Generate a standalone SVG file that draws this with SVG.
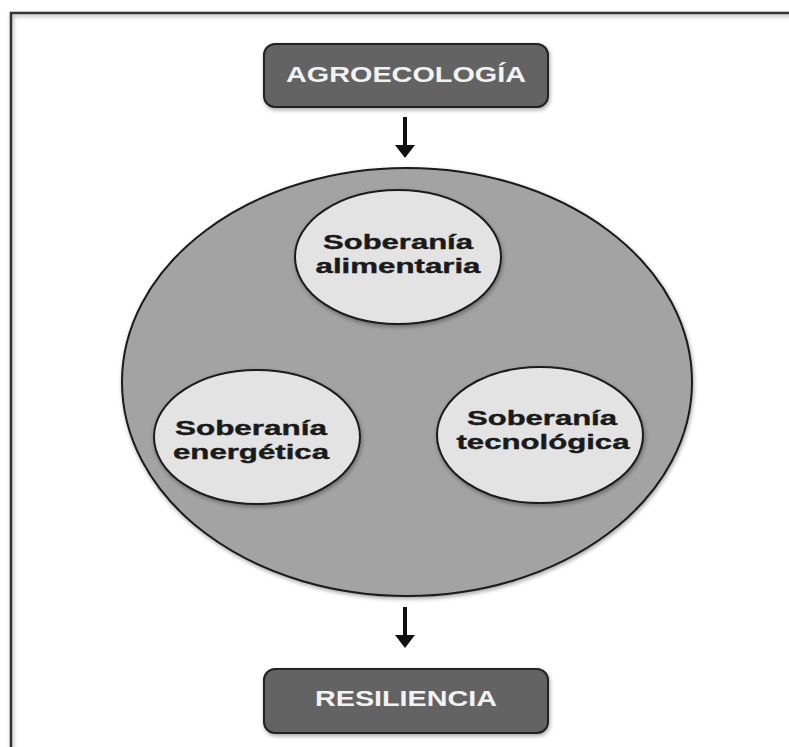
<svg xmlns="http://www.w3.org/2000/svg" width="789" height="747" viewBox="0 0 789 747">
<defs>
<filter id="sh" x="-10%" y="-10%" width="130%" height="130%">
<feGaussianBlur in="SourceAlpha" stdDeviation="2"/>
<feOffset dx="1" dy="2" result="b"/>
<feComponentTransfer><feFuncA type="linear" slope="0.35"/></feComponentTransfer>
<feMerge><feMergeNode/><feMergeNode in="SourceGraphic"/></feMerge>
</filter>
</defs>
<style>
.box{fill:#646464;stroke:#222;stroke-width:2}
.big{fill:#a3a3a3;stroke:#1a1a1a;stroke-width:2}
.small{fill:#e3e3e3;stroke:#1a1a1a;stroke-width:2}
.bt{font-family:"Liberation Sans",Arial,sans-serif;font-weight:bold;font-size:22px;fill:#f2f2f2}
.st{font-family:"Liberation Sans",Arial,sans-serif;font-weight:bold;font-size:21px;fill:#1a1a1a;stroke:#1a1a1a;stroke-width:0.4}
.shaft{stroke:#111;stroke-width:4;fill:none}
.head{fill:#111}
</style>
<rect width="789" height="747" fill="#fff"/>
<path d="M11,760 L11,13 L800,13" fill="none" stroke="#333" stroke-width="2.5" filter="url(#sh)"/>
<g id="agroecologia">
<rect class="box" x="264" y="44" width="284" height="63" rx="11" filter="url(#sh)"/>
<text class="bt" x="406" y="82" text-anchor="middle" textLength="240" lengthAdjust="spacingAndGlyphs">AGROECOLOGÍA</text>
</g>
<g id="soberanias">
<ellipse class="big" cx="407" cy="382" rx="285" ry="214" filter="url(#sh)"/>
</g>
<g id="alimentaria">
<ellipse class="small" cx="398" cy="257" rx="103" ry="67" filter="url(#sh)"/>
<text class="st" x="398" y="249" text-anchor="middle" textLength="150" lengthAdjust="spacingAndGlyphs">Soberanía</text>
<text class="st" x="398" y="273" text-anchor="middle" textLength="165" lengthAdjust="spacingAndGlyphs">alimentaria</text>
</g>
<g id="energetica">
<ellipse class="small" cx="257" cy="437" rx="103" ry="67" filter="url(#sh)"/>
<text class="st" x="251" y="435" text-anchor="middle" textLength="152" lengthAdjust="spacingAndGlyphs">Soberanía</text>
<text class="st" x="251" y="459" text-anchor="middle" textLength="156" lengthAdjust="spacingAndGlyphs">energética</text>
</g>
<g id="tecnologica">
<ellipse class="small" cx="540" cy="435" rx="103" ry="68" filter="url(#sh)"/>
<text class="st" x="542" y="425" text-anchor="middle" textLength="150" lengthAdjust="spacingAndGlyphs">Soberanía</text>
<text class="st" x="543" y="449" text-anchor="middle" textLength="173" lengthAdjust="spacingAndGlyphs">tecnológica</text>
</g>
<g id="resiliencia">
<rect class="box" x="264" y="669" width="284" height="64" rx="11" filter="url(#sh)"/>
<text class="bt" x="406" y="706" text-anchor="middle" textLength="182" lengthAdjust="spacingAndGlyphs">RESILIENCIA</text>
</g>
<g id="connectors">
<line class="shaft" x1="405" y1="117" x2="405" y2="147"/>
<polygon class="head" points="395,145 415,145 405,158"/>
<line class="shaft" x1="405" y1="607" x2="405" y2="637"/>
<polygon class="head" points="395,635 415,635 405,648"/>
</g>
</svg>
